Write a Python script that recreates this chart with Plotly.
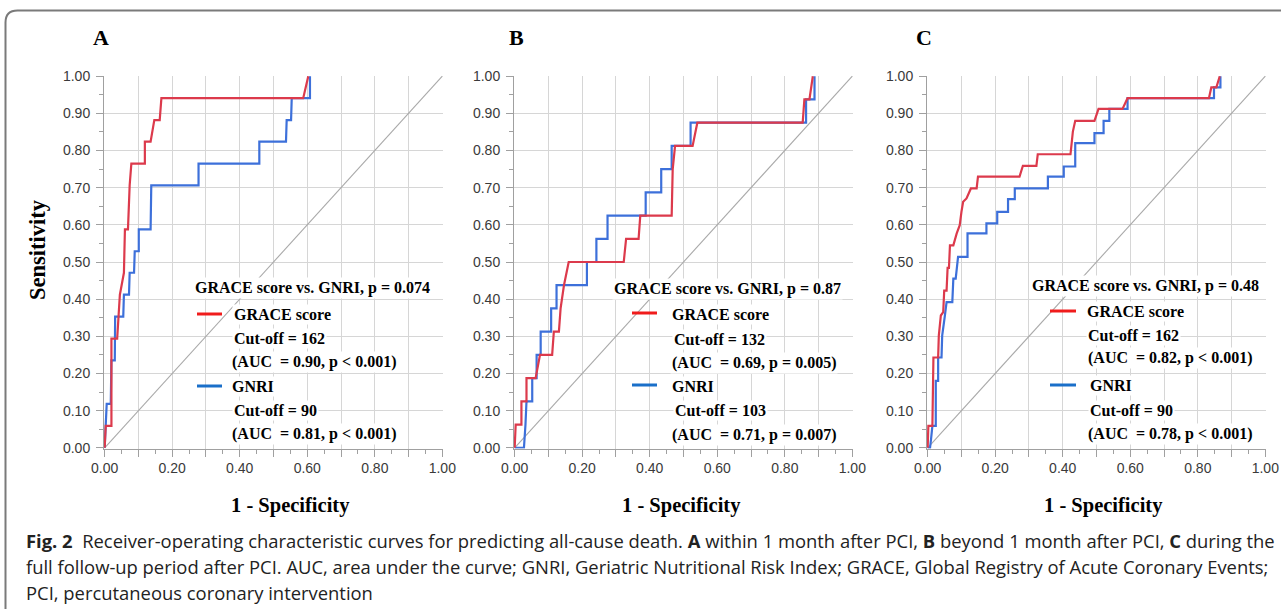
import plotly.graph_objects as go

# ---------------- data ----------------
panel_letters = ["A", "B", "C"]

# Panel A: within 1 month
a_grace_fpr = [0, 0.003, 0.020, 0.020, 0.037, 0.045, 0.057, 0.060, 0.069, 0.074, 0.079, 0.119, 0.119, 0.136, 0.147, 0.163, 0.168, 0.588, 0.603]
a_grace_tpr = [0, 0.059, 0.059, 0.294, 0.294, 0.412, 0.471, 0.588, 0.588, 0.706, 0.765, 0.765, 0.824, 0.824, 0.882, 0.882, 0.941, 0.941, 1.0]
a_gnri_fpr = [0, 0.006, 0.018, 0.020, 0.030, 0.031, 0.055, 0.057, 0.072, 0.074, 0.087, 0.089, 0.101, 0.101, 0.136, 0.138, 0.278, 0.278, 0.458, 0.458, 0.537, 0.539, 0.552, 0.554, 0.608, 0.608]
a_gnri_tpr = [0, 0.118, 0.118, 0.235, 0.235, 0.353, 0.353, 0.412, 0.412, 0.471, 0.471, 0.529, 0.529, 0.588, 0.588, 0.706, 0.706, 0.765, 0.765, 0.824, 0.824, 0.882, 0.882, 0.941, 0.941, 1.0]

# Panel B: beyond 1 month
b_grace_fpr = [0, 0.003, 0.020, 0.020, 0.035, 0.035, 0.062, 0.075, 0.111, 0.116, 0.131, 0.136, 0.146, 0.160, 0.323, 0.330, 0.367, 0.372, 0.465, 0.468, 0.475, 0.527, 0.541, 0.853, 0.858, 0.873, 0.883]
b_grace_tpr = [0, 0.0625, 0.0625, 0.125, 0.125, 0.1875, 0.1875, 0.25, 0.25, 0.3125, 0.3125, 0.375, 0.4375, 0.5, 0.5, 0.5625, 0.5625, 0.625, 0.625, 0.75, 0.8125, 0.8125, 0.875, 0.875, 0.9375, 0.9375, 1.0]
b_gnri_fpr = [0, 0.0275, 0.032, 0.035, 0.052, 0.052, 0.065, 0.065, 0.077, 0.077, 0.108, 0.108, 0.124, 0.124, 0.214, 0.214, 0.242, 0.242, 0.275, 0.275, 0.388, 0.388, 0.434, 0.434, 0.465, 0.465, 0.521, 0.521, 0.863, 0.863, 0.888, 0.888]
b_gnri_tpr = [0, 0, 0.0625, 0.125, 0.125, 0.1875, 0.1875, 0.25, 0.25, 0.3125, 0.3125, 0.375, 0.375, 0.4375, 0.4375, 0.5, 0.5, 0.5625, 0.5625, 0.625, 0.625, 0.6875, 0.6875, 0.75, 0.75, 0.8125, 0.8125, 0.875, 0.875, 0.9375, 0.9375, 1.0]

# Panel C: full follow-up
c_grace_fpr = [0, 0.002, 0.014, 0.017, 0.031, 0.033, 0.039, 0.046, 0.049, 0.056, 0.059, 0.063, 0.066, 0.076, 0.086, 0.095, 0.100, 0.105, 0.115, 0.128, 0.145, 0.149, 0.272, 0.282, 0.322, 0.326, 0.423, 0.430, 0.437, 0.494, 0.506, 0.577, 0.592, 0.833, 0.840, 0.855, 0.865]
c_grace_tpr = [0, 0.059, 0.059, 0.243, 0.243, 0.302, 0.356, 0.365, 0.423, 0.423, 0.484, 0.484, 0.545, 0.545, 0.577, 0.599, 0.635, 0.662, 0.671, 0.698, 0.698, 0.730, 0.730, 0.759, 0.759, 0.790, 0.790, 0.851, 0.880, 0.880, 0.912, 0.912, 0.941, 0.941, 0.970, 0.970, 1.0]
c_gnri_fpr = [0, 0.007, 0.010, 0.014, 0.024, 0.024, 0.031, 0.031, 0.041, 0.043, 0.051, 0.056, 0.073, 0.076, 0.083, 0.086, 0.090, 0.118, 0.118, 0.174, 0.174, 0.206, 0.206, 0.238, 0.238, 0.258, 0.258, 0.356, 0.356, 0.403, 0.403, 0.437, 0.437, 0.494, 0.494, 0.521, 0.521, 0.538, 0.538, 0.592, 0.592, 0.848, 0.848, 0.867, 0.867]
c_gnri_tpr = [0, 0, 0.023, 0.059, 0.059, 0.180, 0.180, 0.243, 0.243, 0.302, 0.356, 0.392, 0.392, 0.455, 0.455, 0.484, 0.514, 0.514, 0.577, 0.577, 0.604, 0.604, 0.635, 0.635, 0.669, 0.669, 0.698, 0.698, 0.730, 0.730, 0.757, 0.757, 0.820, 0.820, 0.847, 0.847, 0.880, 0.880, 0.912, 0.912, 0.941, 0.941, 0.970, 0.970, 1.0]

reference_line = [0, 1]

comparison_p = ["0.074", "0.87", "0.48"]
grace_cutoff = ["162", "132", "162"]
grace_auc = ["(AUC  = 0.90, p < 0.001)", "(AUC  = 0.69, p = 0.005)", "(AUC  = 0.82, p < 0.001)"]
gnri_cutoff = ["90", "103", "90"]
gnri_auc = ["(AUC  = 0.81, p < 0.001)", "(AUC  = 0.71, p = 0.007)", "(AUC  = 0.78, p < 0.001)"]

x_tick_vals = [0, 0.1, 0.2, 0.3, 0.4, 0.5, 0.6, 0.7, 0.8, 0.9, 1.0]
x_tick_text = ["0.00", "", "0.20", "", "0.40", "", "0.60", "", "0.80", "", "1.00"]
y_tick_vals = [0, 0.1, 0.2, 0.3, 0.4, 0.5, 0.6, 0.7, 0.8, 0.9, 1.0]
y_tick_text = ["0.00", "0.10", "0.20", "0.30", "0.40", "0.50", "0.60", "0.70", "0.80", "0.90", "1.00"]

caption_lines = [
    "<b>Fig. 2</b>  Receiver-operating characteristic curves for predicting all-cause death. <b>A</b> within 1 month after PCI, <b>B</b> beyond 1 month after PCI, <b>C</b> during the",
    "full follow-up period after PCI. AUC, area under the curve; GNRI, Geriatric Nutritional Risk Index; GRACE, Global Registry of Acute Coronary Events;",
    "PCI, percutaneous coronary intervention",
]

# ---------------- styling / layout ----------------
W, H = 1281, 609
def px(x):
    return x / W
def py(y):
    return 1 - y / H

RED = "#dc3a4c"
BLUE = "#3d70da"
RED_KEY = "#f01c1c"
BLUE_KEY = "#1a6fc9"
GRID = "#d6d6d6"
AXIS = "#a0a0a0"
SERIF = "Liberation Serif"
SANS = "Liberation Sans"

panel_px = [(104, 443), (514, 853), (927, 1266)]
y_px = (75.5, 448.5)

curves = [
    (a_grace_fpr, a_grace_tpr, a_gnri_fpr, a_gnri_tpr),
    (b_grace_fpr, b_grace_tpr, b_gnri_fpr, b_gnri_tpr),
    (c_grace_fpr, c_grace_tpr, c_gnri_fpr, c_gnri_tpr),
]

fig = go.Figure()
for i, (gx, gy, nx, ny) in enumerate(curves):
    sfx = "" if i == 0 else str(i + 1)
    xa, ya = "x" + sfx, "y" + sfx
    fig.add_trace(go.Scatter(x=reference_line, y=reference_line, mode="lines",
                             line=dict(color="#a9a9a9", width=1.1), xaxis=xa, yaxis=ya,
                             showlegend=False, hoverinfo="skip"))
    fig.add_trace(go.Scatter(x=nx, y=ny, mode="lines", name="GNRI",
                             line=dict(color=BLUE, width=2.2), xaxis=xa, yaxis=ya, showlegend=False))
    fig.add_trace(go.Scatter(x=gx, y=gy, mode="lines", name="GRACE score",
                             line=dict(color=RED, width=2.2), xaxis=xa, yaxis=ya, showlegend=False))

layout = dict(
    width=W, height=H, autosize=False, margin=dict(l=0, r=0, t=0, b=0, pad=0, autoexpand=False),
    paper_bgcolor="white", plot_bgcolor="white", showlegend=False,
)
for i, (x0, x1) in enumerate(panel_px):
    sfx = "" if i == 0 else str(i + 1)
    layout["xaxis" + sfx] = dict(
        domain=[px(x0), px(x1)], range=[-0.002, 1.002], anchor="y" + sfx, automargin=False,
        tickmode="array", tickvals=x_tick_vals, ticktext=x_tick_text,
        showgrid=True, gridcolor=GRID, gridwidth=1, zeroline=False,
        showline=True, linecolor=AXIS, linewidth=1,
        ticks="outside", ticklen=7, tickcolor=AXIS, ticklabelstandoff=0,
        minor=dict(dtick=0.05, tick0=0, ticks="outside", ticklen=4, tickcolor=AXIS, showgrid=False),
        tickfont=dict(family=SANS, size=14, color="#3a3a3a"),
    )
    layout["yaxis" + sfx] = dict(
        domain=[py(y_px[1]), py(y_px[0])], range=[-0.002, 1.002], anchor="x" + sfx, automargin=False,
        tickmode="array", tickvals=y_tick_vals, ticktext=y_tick_text,
        showgrid=True, gridcolor=GRID, gridwidth=1, zeroline=False,
        showline=True, linecolor=AXIS, linewidth=1,
        ticks="outside", ticklen=7, tickcolor=AXIS, ticklabelstandoff=3,
        minor=dict(dtick=0.05, tick0=0, ticks="outside", ticklen=4, tickcolor=AXIS, showgrid=False),
        tickfont=dict(family=SANS, size=14, color="#3a3a3a"),
    )
fig.update_layout(**layout)

ann = []
shapes = []

def txt(x, y, s, size=16, xanchor="left", bg="white", family=SERIF, weight="bold", color="black", angle=0):
    ann.append(dict(x=px(x), y=py(y), xref="paper", yref="paper", text=s, showarrow=False,
                    xanchor=xanchor, yanchor="middle", textangle=angle,
                    bgcolor=bg, borderpad=1,
                    font=dict(family=family, size=size, color=color, weight=weight)))

# panel letters
letter_x = [101, 516, 924]
for L, lx in zip(panel_letters, letter_x):
    txt(lx, 37, L, size=22, xanchor="center", bg="rgba(0,0,0,0)")

# axis titles
txt(38, 250, "Sensitivity", size=22.5, xanchor="center", bg="rgba(0,0,0,0)", angle=-90)
for cx in [290, 681, 1103]:
    txt(cx, 505, "1 - Specificity", size=20.5, xanchor="center", bg="rgba(0,0,0,0)")

# legend blocks (pixel positions)
leg = [
    dict(title=(193, 288), key=(197, 222), red_y=314, blue_y=386,
         rows=[(232, 314), (232, 338), (230, 362), (230, 386), (232, 410), (230, 434)]),
    dict(title=(612, 289), key=(632, 657), red_y=313, blue_y=385,
         rows=[(670, 314), (672, 339), (670, 363), (670, 386), (673, 411), (670, 435)]),
    dict(title=(1030, 286), key=(1050, 1076), red_y=311, blue_y=385,
         rows=[(1085, 311), (1086, 335), (1086, 358), (1088, 385), (1088, 410), (1086, 434)]),
]
for i, d in enumerate(leg):
    txt(d["title"][0], d["title"][1], "GRACE score vs. GNRI, p = " + comparison_p[i])
    texts = ["GRACE score", "Cut-off = " + grace_cutoff[i], grace_auc[i],
             "GNRI", "Cut-off = " + gnri_cutoff[i], gnri_auc[i]]
    for (rx, ry), s in zip(d["rows"], texts):
        txt(rx, ry, s)
    k0, k1 = d["key"]
    shapes.append(dict(type="line", xref="paper", yref="paper", x0=px(k0), x1=px(k1),
                       y0=py(d["red_y"]), y1=py(d["red_y"]), line=dict(color=RED_KEY, width=3)))
    shapes.append(dict(type="line", xref="paper", yref="paper", x0=px(k0), x1=px(k1),
                       y0=py(d["blue_y"]), y1=py(d["blue_y"]), line=dict(color=BLUE_KEY, width=3)))

# caption
for s, cy in zip(caption_lines, [540, 566, 592]):
    txt(24, cy, s, size=18.4, family="Open Sans", weight="normal", color="#222222", bg="rgba(0,0,0,0)")

# rounded frame (top-left corner)
fx, fy, r = px(5.5), py(10.5), 12
path = (f"M {fx},{py(615)} L {fx},{py(10.5 + r)} "
        f"Q {fx},{fy} {px(5.5 + r)},{fy} L {px(1290)},{fy}")
shapes.append(dict(type="path", xref="paper", yref="paper", path=path,
                   line=dict(color="#7a7a7a", width=2)))

fig.update_layout(annotations=ann, shapes=shapes)
fig.write_html("out.html", config={"displayModeBar": False},
               post_script="document.body.style.margin='0px';document.body.style.overflow='hidden';")
